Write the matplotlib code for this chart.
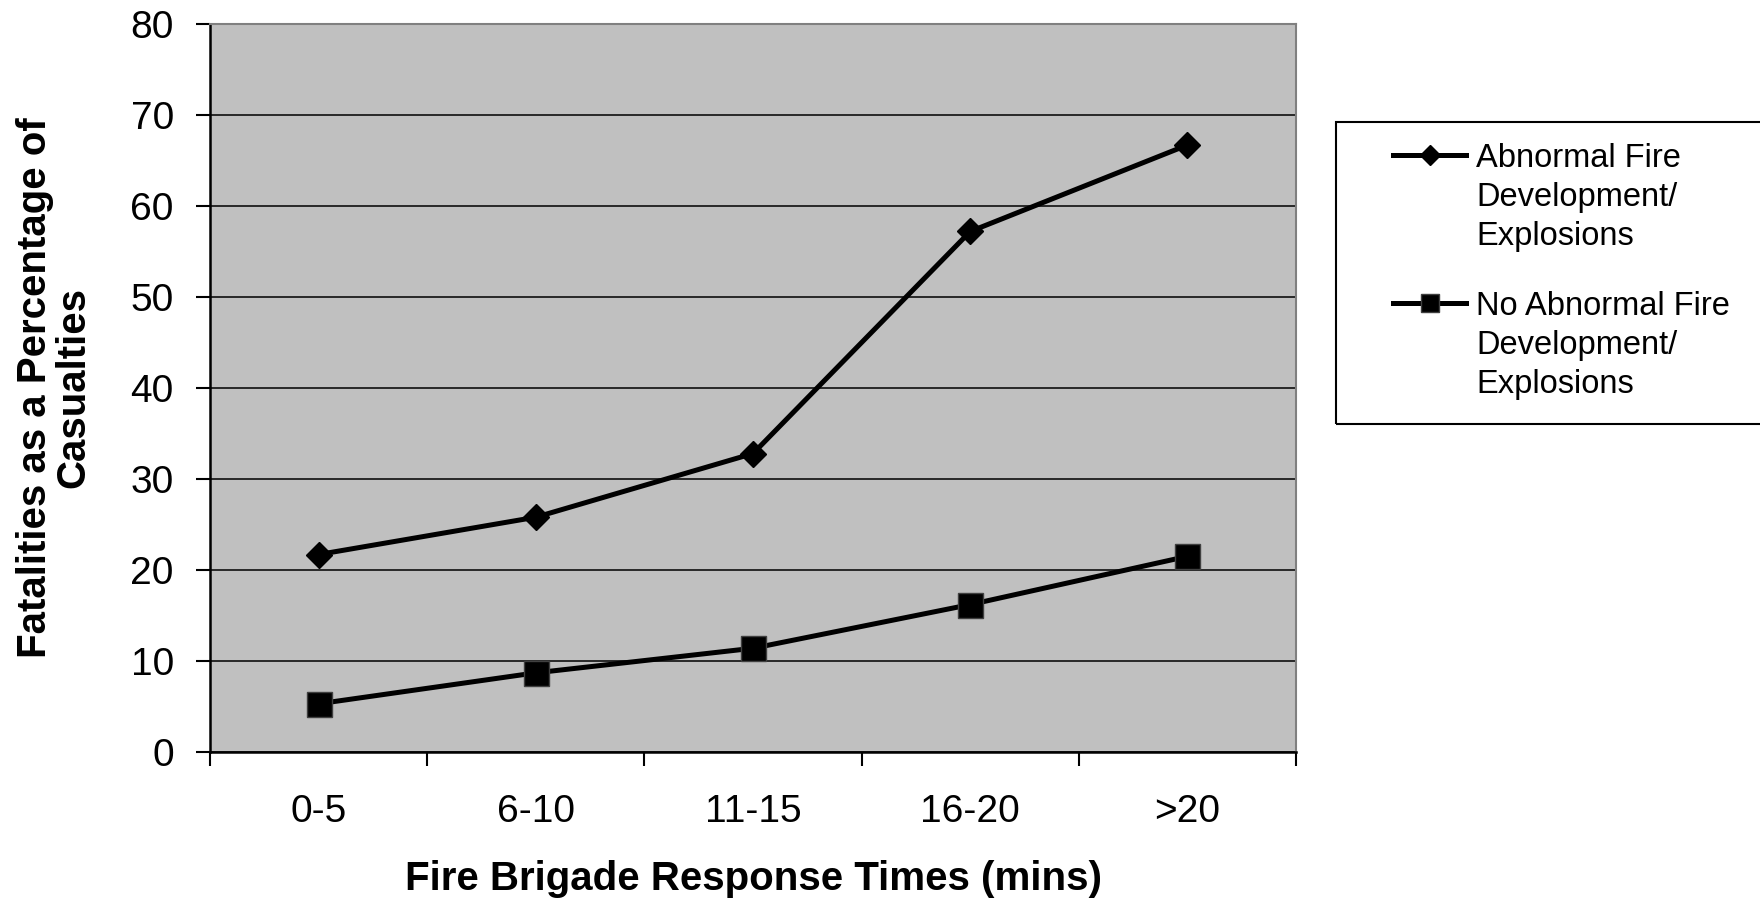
import matplotlib
matplotlib.use("Agg")
import matplotlib.pyplot as plt
from matplotlib.patches import Rectangle
from matplotlib.ticker import FixedLocator

plt.rcParams['font.family'] = ['Liberation Sans', 'DejaVu Sans']

response_times = ["0-5", "6-10", "11-15", "16-20", ">20"]
abnormal = [21.7, 25.8, 32.8, 57.2, 66.7]
no_abnormal = [5.3, 8.7, 11.4, 16.2, 21.5]
series_labels = ["Abnormal Fire\nDevelopment/\nExplosions",
                 "No Abnormal Fire\nDevelopment/\nExplosions"]

fig = plt.figure(figsize=(17.6, 9.02), dpi=100)
ax = fig.add_axes([0.1193, 0.1663, 0.6171, 0.8071])
ax.set_facecolor("#c0c0c0")

x = list(range(len(response_times)))
ax.plot(x, abnormal, color="black", lw=3.6, marker="D", ms=13.7,
        label=series_labels[0], zorder=3)
ax.plot(x, no_abnormal, color="black", lw=3.6, marker="s", ms=18,
        mec="#404040", mew=1, label=series_labels[1], zorder=3)

ax.set_xlim(-0.5, len(response_times) - 0.5)
ax.set_ylim(0, 80)
ax.set_yticks(range(0, 81, 10))
ax.yaxis.grid(True, color="black", lw=1.1)
ax.set_axisbelow(True)

# boundary ticks between categories, labels at the centres
ax.xaxis.set_major_locator(FixedLocator([i - 0.5 for i in range(len(x) + 1)]))
ax.xaxis.set_minor_locator(FixedLocator(x))
ax.set_xticklabels([], minor=False)
ax.set_xticklabels(response_times, minor=True)
ax.tick_params(axis="x", which="major", length=10, width=1.5, direction="out")
ax.tick_params(axis="x", which="minor", length=0, pad=30, labelsize=28)
ax.tick_params(axis="y", length=10, width=1.5, pad=16, labelsize=28)

for side in ("left", "bottom"):
    ax.spines[side].set_linewidth(1.8)
    ax.spines[side].set_color("black")
for side in ("top", "right"):
    ax.spines[side].set_linewidth(1.5)
    ax.spines[side].set_color("#808080")

ax.set_xlabel("Fire Brigade Response Times (mins)", fontsize=29,
              fontweight="bold", labelpad=22)
ax.set_ylabel("Fatalities as a Percentage of\nCasualties", fontsize=29,
              fontweight="bold", va="center", linespacing=1.0)
ax.yaxis.set_label_coords(-0.1435, 0.5)

leg = ax.legend(loc="upper left", bbox_to_anchor=(0.7915, 0.841),
                bbox_transform=fig.transFigure, frameon=False, fontsize=23.5,
                borderpad=0, borderaxespad=0, handlelength=2.25,
                handletextpad=0.3, labelspacing=1.2, markerscale=0.75)
for t in leg.get_texts():
    t.set_linespacing(1.33)
# put the line sample next to the first text line of each entry
for h in leg.legend_handles:
    h.set_ydata([y + 31 for y in h.get_ydata()])

fig.patches.append(Rectangle((0.759, 0.530), 0.3, 0.3347, transform=fig.transFigure,
                             fill=False, edgecolor="black", lw=1.5, clip_on=False))

fig.savefig("out.png", dpi=100)
